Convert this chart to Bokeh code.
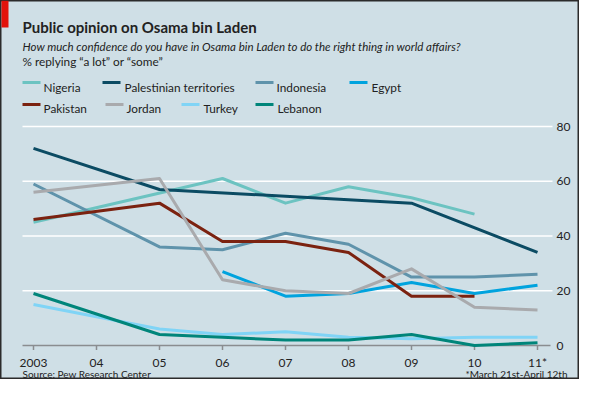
from bokeh.plotting import figure
from bokeh.models import Range1d, Label, BoxAnnotation
from bokeh.core.properties import value
from bokeh.embed import file_html
from bokeh.resources import INLINE

# ---- data ----
nigeria_years = [2003, 2006, 2007, 2008, 2009, 2010]
nigeria = [45, 61, 52, 58, 54, 48]

palestinian_years = [2003, 2005, 2009, 2011]
palestinian = [72, 57, 52, 34]

indonesia_years = [2003, 2005, 2006, 2007, 2008, 2009, 2010, 2011]
indonesia = [59, 36, 35, 41, 37, 25, 25, 26]

egypt_years = [2006, 2007, 2008, 2009, 2010, 2011]
egypt = [27, 18, 19, 23, 19, 22]

pakistan_years = [2003, 2005, 2006, 2007, 2008, 2009, 2010]
pakistan = [46, 52, 38, 38, 34, 18, 18]

jordan_years = [2003, 2005, 2006, 2007, 2008, 2009, 2010, 2011]
jordan = [56, 61, 24, 20, 19, 28, 14, 13]

turkey_years = [2003, 2005, 2006, 2007, 2008, 2009, 2010, 2011]
turkey = [15, 6, 4, 5, 3, 2.5, 3, 3]

lebanon_years = [2003, 2005, 2006, 2007, 2008, 2009, 2010, 2011]
lebanon = [19, 4, 3, 2, 2, 4, 0, 1]

tick_years = [2003, 2004, 2005, 2006, 2007, 2008, 2009, 2010, 2011]
tick_labels = ["2003", "04", "05", "06", "07", "08", "09", "10", "11*"]
y_ticks = [0, 20, 40, 60, 80]
y_tick_labels = ["0", "20", "40", "60", "80"]

series_names = ["Nigeria", "Palestinian territories", "Indonesia", "Egypt",
                "Pakistan", "Jordan", "Turkey", "Lebanon"]
series_x = [nigeria_years, palestinian_years, indonesia_years, egypt_years,
            pakistan_years, jordan_years, turkey_years, lebanon_years]
series_y = [nigeria, palestinian, indonesia, egypt, pakistan, jordan, turkey, lebanon]
colors = ["#6cc3c1", "#0b4b63", "#5f93ab", "#00a3de",
          "#7b2210", "#a9aaad", "#80d4f6", "#00857a"]

BG = "#cfdfe6"
TXT = "#222222"
FONT = "Lato"

W, H = 579, 379          # figure size
PX_YEAR = 63.0           # pixels per year
Y80 = 126                # pixel row of the 80 gridline
X0, Y0 = 33, 345         # pixel position of (2003, 0) inside the figure
PX_UNIT = (Y0 - Y80) / 80.0


# layout helpers: pixel position in the figure -> data position (texts/decorations only)
def dx(X):
    return 2003 + (X - X0) / PX_YEAR


def dy(Y):
    return (Y0 - Y) / PX_UNIT


p = figure(width=W, height=H,
           x_range=Range1d(dx(0), dx(W)),
           y_range=Range1d(dy(H), dy(0)),
           x_axis_location=None, y_axis_location=None,
           min_border=0,
           output_backend="svg", toolbar_location=None)
p.min_border_left = p.min_border_right = p.min_border_top = p.min_border_bottom = 0
p.background_fill_color = BG
p.border_fill_color = BG
p.outline_line_color = "#2b2b2b"
p.outline_line_width = 2
p.grid.visible = False

# grid lines
grid_vals = [v for v in y_ticks if v > 0]
p.segment(x0=[dx(22)] * len(grid_vals), x1=[dx(552)] * len(grid_vals),
          y0=grid_vals, y1=grid_vals, line_color="white", line_width=1.5)
# zero line and ticks
p.segment(x0=[dx(22)], x1=[dx(550)], y0=[0], y1=[0], line_color="#8a8d90", line_width=1.5)
p.segment(x0=tick_years, x1=tick_years, y0=[0] * len(tick_years),
          y1=[-4.5 / PX_UNIT] * len(tick_years), line_color="#8a8d90", line_width=1.5)

# x tick labels
p.text(x=tick_years, y=[dy(Y0 + 17)] * len(tick_years), text=tick_labels,
       text_align="center", text_baseline="alphabetic",
       text_font=value(FONT), text_font_size="12px", text_color=TXT)
# y tick labels (right)
p.text(x=[dx(556)] * len(y_ticks), y=y_ticks, text=y_tick_labels,
       text_align="left", text_baseline="middle",
       text_font=value(FONT), text_font_size="12px", text_color=TXT)

# data lines
for xs, ys, c in zip(series_x, series_y, colors):
    p.line(xs, ys, line_color=c, line_width=3, line_join="round")

# red tab
p.add_layout(BoxAnnotation(left=dx(1), right=dx(8), top=dy(0), bottom=dy(27),
                           fill_color="#e3120b", fill_alpha=1, line_color=None))


def label(X, Y, text, size, style="normal", align="left"):
    p.add_layout(Label(x=dx(X), y=dy(Y), text=text, text_font=FONT,
                       text_font_style=style, text_font_size=size,
                       text_color=TXT, text_align=align, text_baseline="alphabetic"))


label(22, 26.5, "Public opinion on Osama bin Laden", "15px", "bold")
label(22, 45.5, "How much confidence do you have in Osama bin Laden to do the right thing in world affairs?",
      "11.5px", "italic")
label(22, 61, "% replying \u201ca lot\u201d or  \u201csome\u201d", "11.8px")

# legend
sw_x = [22, 102, 255, 349, 22, 105, 181, 255]
tx_x = [43, 124, 276, 371, 43, 126, 203, 277]
row_y = [82, 82, 82, 82, 104, 104, 104, 104]
row_base = [86.5, 86.5, 86.5, 86.5, 108, 108, 108, 108]
for name, c, a, b, ry, rb in zip(series_names, colors, sw_x, tx_x, row_y, row_base):
    p.add_layout(BoxAnnotation(left=dx(a), right=dx(a + 18), top=dy(ry - 1.5), bottom=dy(ry + 1.5),
                               fill_color=c, fill_alpha=1, line_color=None))
    label(b, rb, name, "11.8px")

label(22, 373.5, "Source: Pew Research Center", "10px")
label(567, 373.5, "*March 21st-April 12th", "10px", align="right")

open("out.html", "w").write(file_html(p, INLINE))
